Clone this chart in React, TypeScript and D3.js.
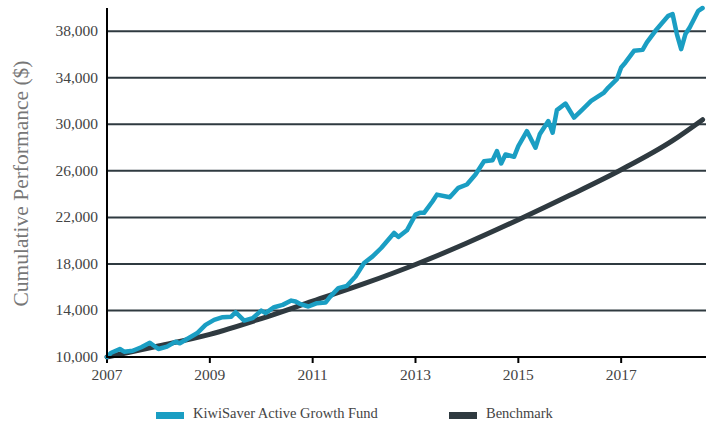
import React from "react";
import * as d3 from "d3";

// Fund: month index from Jan 2007
const fundMonths = [
  0, 1, 3, 4, 6, 8, 10, 12, 14, 16, 17, 19, 21, 23, 25, 27, 29, 30, 32, 34,
  36, 37, 39, 41, 43, 44, 45, 47, 49, 51, 52, 54, 56, 58, 60, 62, 64, 65, 67,
  68, 70, 72, 73, 74, 76, 77, 80, 82, 84, 86, 88, 90, 91, 92, 93, 95, 96, 98,
  100, 101, 103, 104, 105, 107, 109, 111, 113, 116, 117, 119, 120, 121, 123,
  125, 126, 128, 129, 131, 132, 133, 134, 135, 136, 138, 139,
];
const fundValues = [
  10000, 10370, 10690, 10460, 10540, 10840, 11230, 10690, 10890, 11320, 11180,
  11610, 12040, 12760, 13190, 13420, 13470, 13850, 13130, 13340, 13990, 13770,
  14280, 14480, 14850, 14770, 14570, 14340, 14630, 14680, 15150, 15920, 16120,
  16920, 18080, 18650, 19370, 19800, 20660, 20320, 20890, 22240, 22390, 22390,
  23390, 23960, 23730, 24540, 24830, 25690, 26830, 26920, 27700, 26640, 27410,
  27210, 28130, 29420, 27990, 29140, 30280, 29280, 31220, 31790, 30580, 31290,
  32010, 32730, 33160, 33880, 34890, 35320, 36320, 36400, 37040, 38040, 38470,
  39330, 39480, 37760, 36460, 37760, 38330, 39760, 40000,
];

// Benchmark: smooth line, read at yearly points
const benchMonths = [0, 12, 24, 36, 48, 60, 72, 84, 96, 108, 120, 132, 139];
const benchValues = [
  10000, 10950, 11950, 13300, 14800, 16300, 17950, 19800, 21800, 23900, 26100,
  28600, 30400,
];

const yTicks = [10000, 14000, 18000, 22000, 26000, 30000, 34000, 38000];
const xTicks = [2007, 2009, 2011, 2013, 2015, 2017];

const seriesNames = ["KiwiSaver Active Growth Fund", "Benchmark"];
const seriesColors = ["#1a9ec3", "#2f3a40"];

const W = 710;
const H = 423;
const left = 107;
const right = 706;
const top = 8;
const bottom = 357;
const font = "'Liberation Serif', serif";

export default function App() {
  const x = d3.scaleLinear().domain([2007, 2018.65]).range([left, right]);
  const y = d3.scaleLinear().domain([10000, 40000]).range([bottom, top]);

  const fund = fundMonths.map((m, i) => [2007 + m / 12, fundValues[i]]);
  const bench = benchMonths.map((m, i) => [2007 + m / 12, benchValues[i]]);

  const lineFund = d3
    .line<number[]>()
    .x((d) => x(d[0]))
    .y((d) => y(d[1]));
  const lineBench = d3
    .line<number[]>()
    .x((d) => x(d[0]))
    .y((d) => y(d[1]))
    .curve(d3.curveMonotoneX);

  return (
    <svg
      width={W}
      height={H}
      style={{ position: "absolute", left: 0, top: 0, background: "#fff" }}
    >
      {/* gridlines */}
      {yTicks
        .filter((t) => t > 10000)
        .map((t) => (
          <line
            key={t}
            x1={left}
            x2={right}
            y1={y(t)}
            y2={y(t)}
            stroke="#2f3a40"
            strokeWidth={2}
          />
        ))}

      {/* y tick labels */}
      {yTicks.map((t) => (
        <text
          key={t}
          x={98}
          y={y(t) + 5}
          textAnchor="end"
          fontFamily={font}
          fontSize={15.5}
          fill="#444"
        >
          {d3.format(",")(t)}
        </text>
      ))}

      {/* x ticks */}
      {xTicks.map((t) => (
        <g key={t}>
          <line
            x1={x(t)}
            x2={x(t)}
            y1={bottom}
            y2={bottom + 6}
            stroke="#000"
            strokeWidth={2}
          />
          <text
            x={x(t)}
            y={380}
            textAnchor="middle"
            fontFamily={font}
            fontSize={15.5}
            fill="#444"
          >
            {t}
          </text>
        </g>
      ))}

      {/* series */}
      <path
        d={lineBench(bench) || ""}
        fill="none"
        stroke={seriesColors[1]}
        strokeWidth={5}
        strokeLinecap="round"
      />
      <path
        d={lineFund(fund) || ""}
        fill="none"
        stroke={seriesColors[0]}
        strokeWidth={4.5}
        strokeLinejoin="round"
        strokeLinecap="round"
      />

      {/* axes */}
      <line x1={left} x2={left} y1={top} y2={bottom + 1} stroke="#000" strokeWidth={2} />
      <line x1={left - 1} x2={right} y1={bottom} y2={bottom} stroke="#000" strokeWidth={2} />

      {/* y title */}
      <text
        transform={`translate(28, ${(top + bottom) / 2 + 1}) rotate(-90)`}
        textAnchor="middle"
        fontFamily={font}
        fontSize={21.5}
        fill="#777"
      >
        Cumulative Performance ($)
      </text>

      {/* legend */}
      {seriesNames.map((name, i) => {
        const lx = i === 0 ? 156 : 449;
        return (
          <g key={name}>
            <rect x={lx} y={412} width={28} height={7} fill={seriesColors[i]} />
            <text x={lx + 37} y={418} fontFamily={font} fontSize={14.5} fill="#444">
              {name}
            </text>
          </g>
        );
      })}
    </svg>
  );
}
